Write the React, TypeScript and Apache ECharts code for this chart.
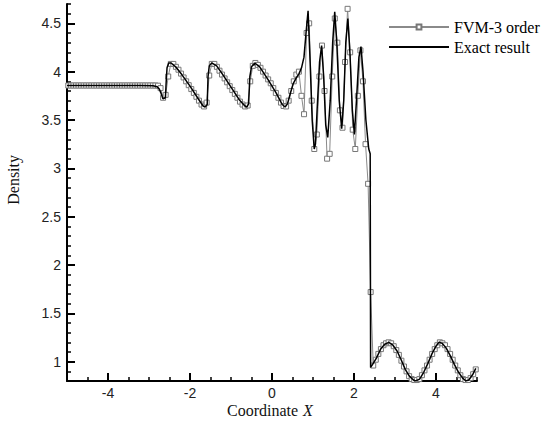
import React, { useEffect, useRef } from "react";
import * as echarts from "echarts";

// FVM-3 order: cell-centre mesh and densities
const fvmStart = -4.96875;
const fvmStep = 0.0625;
const fvmDensity = [
  3.857, 3.857, 3.857, 3.857, 3.857, 3.857, 3.857, 3.857, 3.857, 3.857,
  3.857, 3.857, 3.857, 3.857, 3.857, 3.857, 3.857, 3.857, 3.857, 3.857,
  3.857, 3.857, 3.857, 3.857, 3.857, 3.857, 3.857, 3.857, 3.857, 3.857,
  3.857, 3.857, 3.857, 3.857, 3.857, 3.855, 3.83, 3.73, 3.76, 3.95,
  4.08, 4.08, 4.05, 4.02, 3.98, 3.94, 3.9, 3.86, 3.82, 3.78,
  3.74, 3.7, 3.66, 3.64, 3.68, 3.96, 4.08, 4.08, 4.05, 4.01,
  3.97, 3.93, 3.89, 3.85, 3.81, 3.77, 3.73, 3.69, 3.66, 3.64,
  3.65, 3.9, 4.06, 4.09, 4.07, 4.04, 4.0, 3.96, 3.92, 3.88,
  3.83, 3.78, 3.73, 3.68, 3.645, 3.64, 3.7, 3.8, 3.9, 3.97,
  4.0, 3.75, 3.56, 4.4, 4.5, 3.7, 3.2, 3.35, 3.95, 4.27,
  3.8, 3.1, 3.15, 3.95, 4.55, 4.3, 3.6, 3.42, 4.1, 4.65,
  4.2, 3.4, 3.2, 3.75, 4.22, 3.9, 3.25, 2.84, 1.72, 0.96,
  1.02, 1.08, 1.13, 1.17, 1.19, 1.2, 1.19, 1.16, 1.12, 1.07,
  1.01, 0.95, 0.9, 0.85, 0.82, 0.81, 0.81, 0.82, 0.86, 0.91,
  0.96, 1.02, 1.08, 1.13, 1.17, 1.2, 1.19, 1.17, 1.13, 1.08,
  1.02, 0.96, 0.91, 0.86, 0.82, 0.81, 0.81, 0.83, 0.87, 0.92,
];

// Exact result
const exactX = [
  -5, -3.2, -2.9, -2.8, -2.75, -2.7, -2.66, -2.6, -2.58, -2.56, -2.52, -2.46,
  -2.35, -2.2, -2.0, -1.8, -1.68, -1.63, -1.58, -1.56, -1.53, -1.47, -1.35,
  -1.2, -1.0, -0.8, -0.66, -0.61, -0.57, -0.54, -0.5, -0.42, -0.3, -0.1, 0.1,
  0.25, 0.32, 0.38, 0.45, 0.52, 0.6, 0.66, 0.72, 0.78, 0.83, 0.88, 0.93, 0.98,
  1.03, 1.06, 1.1, 1.16, 1.21, 1.26, 1.31, 1.36, 1.42, 1.48, 1.53, 1.58, 1.64,
  1.7, 1.75, 1.8, 1.85, 1.9, 1.96, 2.01, 2.06, 2.12, 2.17, 2.22, 2.29, 2.36,
  2.395, 2.4, 2.405, 2.45, 2.55, 2.65, 2.75, 2.85, 2.95, 3.05, 3.15, 3.25,
  3.35, 3.45, 3.5, 3.6, 3.7, 3.8, 3.9, 4.0, 4.07, 4.15, 4.25, 4.35, 4.45, 4.55,
  4.65, 4.73, 4.8, 4.9, 4.97,
];
const exactDensity = [
  3.857, 3.857, 3.855, 3.845, 3.82, 3.77, 3.72, 3.73, 3.9, 4.04, 4.09, 4.09,
  4.05, 3.97, 3.85, 3.72, 3.645, 3.635, 3.66, 3.95, 4.06, 4.09, 4.06,
  3.97, 3.84, 3.71, 3.645, 3.635, 3.67, 3.95, 4.05, 4.09, 4.05, 3.92, 3.78,
  3.66, 3.635, 3.67, 3.78, 3.88, 3.94, 3.98, 4.04, 4.15, 4.4, 4.63, 4.1, 3.5,
  3.2, 3.25, 3.6, 4.1, 4.27, 3.95, 3.45, 3.32, 3.7, 4.3, 4.62, 4.3, 3.7,
  3.41, 3.7, 4.3, 4.55, 4.2, 3.6, 3.35, 3.7, 4.15, 4.26, 4.0, 3.5, 3.2,
  3.15, 2.0, 0.94, 0.97, 1.04, 1.13, 1.18, 1.2, 1.17, 1.11, 1.02, 0.92,
  0.85, 0.81, 0.8, 0.82, 0.89, 0.98, 1.08, 1.16, 1.2, 1.19, 1.14, 1.06, 0.97, 0.89,
  0.83, 0.8, 0.81, 0.87, 0.93,
];

const seriesNames = ["FVM-3 order", "Exact result"];

export default function App() {
  const ref = useRef<HTMLDivElement>(null);
  useEffect(() => {
    if (!ref.current) return;
    const chart = echarts.init(ref.current, undefined, { renderer: "svg" });
    const fvmData = fvmDensity.map((v, i) => [fvmStart + fvmStep * i, v]);
    const exactData = exactX.map((x, i) => [x, exactDensity[i]]);
    const sans = "Liberation Sans, Arial, sans-serif";
    const serif = "Liberation Serif, Times New Roman, serif";
    chart.setOption({
      animation: false,
      backgroundColor: "#fff",
      grid: { left: 67, right: 69, top: 4, bottom: 40, outerBoundsMode: "none" },
      legend: {
        data: [
          { name: seriesNames[0] },
          { name: seriesNames[1], itemStyle: { opacity: 0 } },
        ],
        orient: "vertical",
        left: 383,
        top: 14,
        itemWidth: 60,
        itemHeight: 6,
        itemGap: 4,
        textStyle: { fontFamily: serif, fontSize: 16, color: "#000" },
      },
      xAxis: [
        {
          type: "value",
          min: -5,
          max: 5,
          splitNumber: 5,
          minInterval: 2,
          maxInterval: 2,
          position: "bottom",
          axisLine: { show: true, onZero: false, lineStyle: { color: "#000", width: 2 } },
          axisTick: { show: true, inside: true, length: 8, lineStyle: { color: "#000", width: 2 } },
          axisLabel: {
            showMinLabel: false,
            showMaxLabel: false,
            margin: 5,
            fontFamily: sans,
            fontSize: 14,
            color: "#222",
          },
          splitLine: { show: false },
        },
        {
          type: "value",
          min: -5,
          max: 5,
          interval: 0.5,
          position: "bottom",
          axisLine: { show: false, onZero: false },
          axisTick: { show: true, inside: true, length: 4, lineStyle: { color: "#000", width: 1.5 } },
          axisLabel: { show: false },
          splitLine: { show: false },
        },
      ],
      yAxis: [
        {
          type: "value",
          min: 0.8,
          max: 4.7,
          splitNumber: 8,
          minInterval: 0.5,
          maxInterval: 0.5,
          position: "left",
          axisLine: { show: true, onZero: false, lineStyle: { color: "#000", width: 2 } },
          axisTick: { show: true, inside: true, length: 8, lineStyle: { color: "#000", width: 2 } },
          axisLabel: {
            showMinLabel: false,
            showMaxLabel: false,
            margin: 6,
            fontFamily: sans,
            fontSize: 14,
            color: "#222",
          },
          splitLine: { show: false },
        },
        {
          type: "value",
          min: 0.8,
          max: 4.7,
          interval: 0.1,
          position: "left",
          axisLine: { show: false, onZero: false },
          axisTick: { show: true, inside: true, length: 4, lineStyle: { color: "#000", width: 1.5 } },
          axisLabel: { show: false },
          splitLine: { show: false },
        },
      ],
      graphic: [
        {
          type: "text",
          left: 5,
          top: 155,
          rotation: Math.PI / 2,
          style: {
            text: "Density",
            fontFamily: serif,
            fontSize: 16,
            fill: "#111",
          },
        },
        {
          type: "text",
          left: 227,
          top: 402,
          style: {
            text: "Coordinate",
            fontFamily: serif,
            fontSize: 16,
            fill: "#111",
          },
        },
        {
          type: "text",
          left: 303,
          top: 402,
          style: {
            text: "X",
            fontFamily: serif,
            fontSize: 16,
            fontStyle: "italic",
            fill: "#111",
          },
        },
      ],
      series: [
        {
          name: seriesNames[0],
          type: "line",
          xAxisIndex: 0,
          yAxisIndex: 0,
          data: fvmData,
          symbol: "rect",
          symbolSize: 5,
          showAllSymbol: true,
          lineStyle: { color: "#8a8a8a", width: 1 },
          itemStyle: { color: "#fff", borderColor: "#777", borderWidth: 1 },
          z: 2,
        },
        {
          name: seriesNames[1],
          type: "line",
          xAxisIndex: 0,
          yAxisIndex: 0,
          data: exactData,
          symbol: "none",
          lineStyle: { color: "#000", width: 1.5 },
          itemStyle: { color: "#000" },
          z: 3,
        },
      ],
    });
    return () => chart.dispose();
  }, []);
  return (
    <div
      ref={ref}
      style={{ position: "fixed", left: 0, top: 0, width: 546, height: 421 }}
    />
  );
}
